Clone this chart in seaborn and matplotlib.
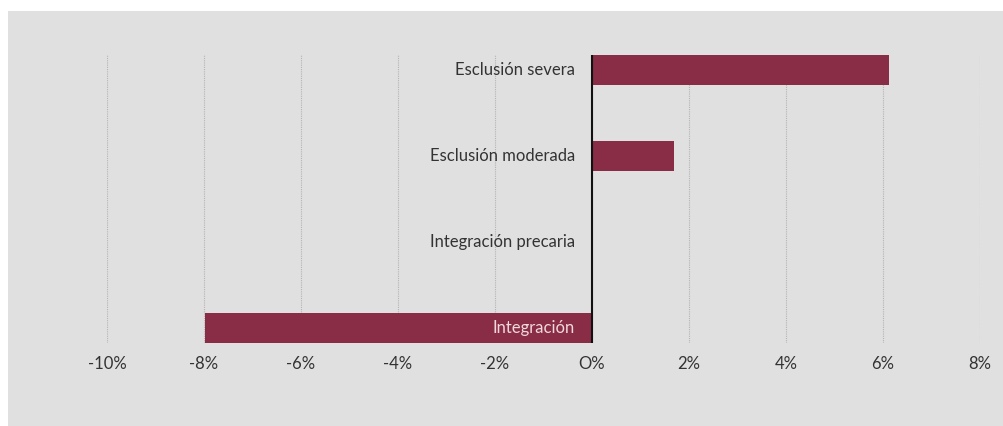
import pandas as pd
import seaborn as sns
import matplotlib.pyplot as plt
from matplotlib.patches import Rectangle

categorias = ['Esclusión severa', 'Esclusión moderada', 'Integración precaria', 'Integración']
valores = [6.12, 1.69, 0.0, -7.98]
ticks = [-10, -8, -6, -4, -2, 0, 2, 4, 6, 8]

df = pd.DataFrame({'cat': categorias, 'val': valores})

sns.set_style('white')
plt.rcParams['font.family'] = ['Lato', 'DejaVu Sans']

fig = plt.figure(figsize=(10.04, 4.26), dpi=100)
fig.patch.set_facecolor('white')
# grey panel behind everything (white margin top/left)
fig.patches.append(Rectangle((8 / 1004, 0), 1, (426 - 11) / 426, transform=fig.transFigure,
                             facecolor='#e0e0e0', edgecolor='none', zorder=-10))
ax = fig.add_axes([0.1066, 0.1948, 0.8695, 0.6761])
ax.set_facecolor('none')

sns.barplot(data=df, x='val', y='cat', orient='h', color='#882d45', saturation=1,
            width=0.35, edgecolor='none', linewidth=0, ax=ax, zorder=3)

ax.set_xlim(-10, 8)
ax.set_ylim(3.175, -0.175)
ax.set_xticks(ticks)
ax.set_xticklabels(['O%' if t == 0 else f'{t}%' for t in ticks],
                   fontsize=12, color='#333333')
ax.tick_params(axis='x', length=0, pad=9)
ax.set_yticks([])
ax.set_xlabel('')
ax.set_ylabel('')
for s in ax.spines.values():
    s.set_visible(False)

for t in ticks:
    ax.axvline(t, color='#b4b4b4', lw=0.8, ls=(0, (1, 1)), zorder=1)
ax.axvline(0, color='#111111', lw=1.5, zorder=4)

for i, (c, v) in enumerate(zip(categorias, valores)):
    col = '#f0d8dd' if v < -1 else '#333333'
    ax.text(-0.35, i, c, ha='right', va='center', fontsize=12, color=col, zorder=5)

fig.savefig('out.png', dpi=100)
